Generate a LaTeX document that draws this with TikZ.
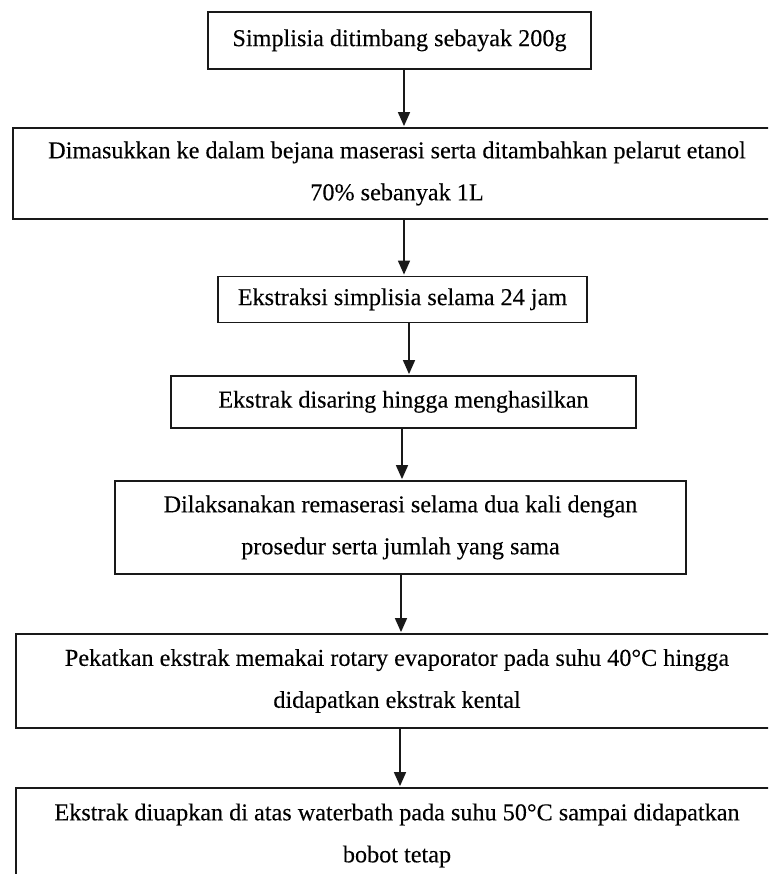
\documentclass[tikz,border=0pt]{standalone}
\usepackage{fontspec}
\setmainfont[FakeBold=0.15]{Liberation Serif}
\usetikzlibrary{arrows.meta}
\tikzset{
  stepbox/.style={draw=black!90, line width=1.8pt, rectangle, align=center, inner sep=0pt,
    text=black, font=\fontsize{24.2}{42}\selectfont},
  oneline/.style={text height=16.5pt, text depth=5.3pt},
  arr/.style={draw=black!90, line width=1.6pt, shorten >=1pt, -{Triangle[length=14pt,width=12pt]}}
}
\begin{document}
\begin{tikzpicture}[x=1pt,y=-1pt]
\useasboundingbox (0,0) rectangle (768,874);
\clip (0,0) rectangle (768,874);
\node[stepbox, oneline, minimum width=383pt, minimum height=57pt] (b1) at (399.5,40.5)
  {Simplisia ditimbang sebayak 200g};
\node[stepbox, minimum width=768pt, minimum height=91pt] (b2) at (397,173.5)
  {Dimasukkan ke dalam bejana maserasi serta ditambahkan pelarut etanol\\70\% sebanyak 1L};
\node[stepbox, oneline, minimum width=369pt, minimum height=46pt] (b3) at (402.5,299.5)
  {Ekstraksi simplisia selama 24 jam};
\node[stepbox, oneline, minimum width=465pt, minimum height=52pt] (b4) at (403.5,402)
  {Ekstrak disaring hingga menghasilkan};
\node[stepbox, minimum width=571pt, minimum height=93pt] (b5) at (400.5,527.5)
  {Dilaksanakan remaserasi selama dua kali dengan\\prosedur serta jumlah yang sama};
\node[stepbox, minimum width=762pt, minimum height=94pt] (b6) at (397,681)
  {Pekatkan ekstrak memakai rotary evaporator pada suhu 40°C hingga\\didapatkan ekstrak kental};
\node[stepbox, minimum width=762pt, minimum height=95pt] (b7) at (397,835.5)
  {Ekstrak diuapkan di atas waterbath pada suhu 50°C sampai didapatkan\\bobot tetap};
\draw[arr] ([xshift=4.5pt]b1.south) -- ([xshift=4.5pt]b1.south |- b2.north);
\draw[arr] ([xshift=7pt]b2.south) -- ([xshift=7pt]b2.south |- b3.north);
\draw[arr] ([xshift=6.5pt]b3.south) -- ([xshift=6.5pt]b3.south |- b4.north);
\draw[arr] ([xshift=-1.5pt]b4.south) -- ([xshift=-1.5pt]b4.south |- b5.north);
\draw[arr] ([xshift=0.5pt]b5.south) -- ([xshift=0.5pt]b5.south |- b6.north);
\draw[arr] ([xshift=3pt]b6.south) -- ([xshift=3pt]b6.south |- b7.north);
\end{tikzpicture}
\end{document}
